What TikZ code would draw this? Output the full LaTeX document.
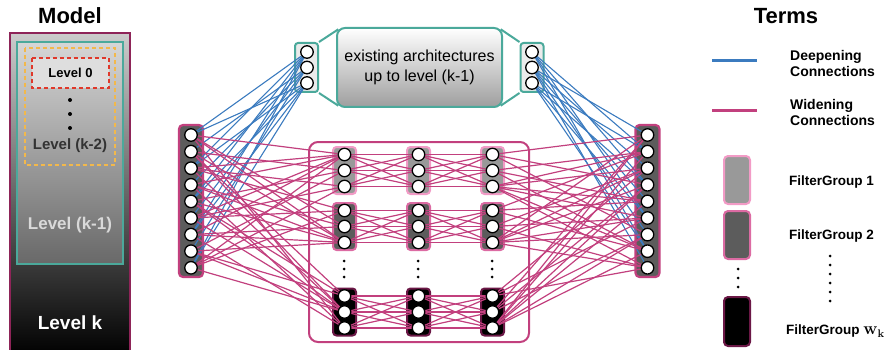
\documentclass[tikz,border=0pt]{standalone}
\usepackage[no-math]{fontspec}
\setmainfont{Liberation Sans}
\usetikzlibrary{calc}
\definecolor{wid}{HTML}{C2407E}
\definecolor{deep}{HTML}{3B7BBF}
\definecolor{teal2}{HTML}{4BA99B}
\definecolor{fgA}{HTML}{999999}
\definecolor{fgAb}{HTML}{F29BC6}
\definecolor{fgB}{HTML}{5C5C5C}
\definecolor{fgBb}{HTML}{DC6BA3}
\definecolor{fgCb}{HTML}{6B1846}
\definecolor{modelb}{HTML}{8E2458}
\definecolor{yel}{HTML}{F2B84B}
\definecolor{redd}{HTML}{E0382A}
\pgfdeclarelayer{boxes}
\pgfdeclarelayer{wires}
\pgfsetlayers{boxes,wires,main}
\begin{document}
\begin{tikzpicture}[x=1pt,y=-1pt,
  neuron/.style={circle,draw=black,fill=white,line width=1.3pt,minimum size=12.5pt,inner sep=0pt},
  colbox/.style={draw=wid,fill=fgB,line width=2.2pt,rounded corners=4pt,minimum width=24pt,minimum height=152pt,inner sep=0pt},
  fgbox/.style={line width=2pt,rounded corners=3.5pt,minimum width=23pt,minimum height=47pt,inner sep=0pt},
  fgone/.style={fgbox,draw=fgAb,fill=fgA},
  fgtwo/.style={fgbox,draw=fgBb,fill=fgB},
  fgthree/.style={fgbox,draw=fgCb,fill=black},
  tealbox/.style={draw=teal2,fill=black!8,line width=2pt,rounded corners=3pt,minimum width=23pt,minimum height=49pt,inner sep=0pt},
  wide/.style={draw=wid,line width=1.2pt},
  deepl/.style={draw=deep,line width=1.1pt},
  dot/.style={circle,fill=black,inner sep=0pt,minimum size=3pt},
  lbl/.style={font=\bfseries\fontsize{14}{16}\selectfont,anchor=west,align=left,inner sep=0pt},
  fglbl/.style={font=\bfseries\fontsize{13.5}{16}\selectfont,anchor=west,inner sep=0pt},
  title/.style={font=\bfseries\fontsize{22}{26}\selectfont,inner sep=0pt}
]
\useasboundingbox (0,0) rectangle (885,350);

% ---------------- Model panel ----------------
\path[draw=modelb,line width=1.5pt,top color=black!20,middle color=black!67,bottom color=black] (10,33) rectangle (130,356);
\path[draw=teal2,line width=2pt,top color=black!16,bottom color=black!59] (17,42) rectangle (123,264);
\draw[yel,line width=2pt,dash pattern=on 4pt off 3pt] (25,48) rectangle (115,165);
\draw[redd,line width=2pt,dash pattern=on 4pt off 3pt,fill=black!13] (32,58) rectangle (109,88);
\node[title] (modelT) at (70,16) {Model};
\node[font=\bfseries\fontsize{13}{15}\selectfont,inner sep=0pt] (lv0) at (70.5,73) {Level 0};
\node[dot,minimum size=4pt] (md1) at (70,100) {};
\node[dot,minimum size=4pt] (md2) at (70,114) {};
\node[dot,minimum size=4pt] (md3) at (70,128) {};
\node[font=\bfseries\fontsize{15}{18}\selectfont,text=black!80,inner sep=0pt] (lvk2) at (70,146) {Level (k-2)};
\node[font=\bfseries\fontsize{17}{20}\selectfont,text=black!15,inner sep=0pt] (lvk1) at (70,225) {Level (k-1)};
\node[font=\bfseries\fontsize{19}{22}\selectfont,text=white,inner sep=0pt] (lvk) at (70,323) {Level k};

% ---------------- boxes ----------------
\begin{pgfonlayer}{boxes}
\node[tealbox] (tlb) at (306.5,67.5) {};
\node[tealbox] (trb) at (532,67.5) {};
\node[colbox] (lcol) at (191,201) {};
\node[colbox] (rcol) at (647.5,201) {};
\node[draw=wid,line width=2pt,rounded corners=9pt,minimum width=220pt,minimum height=200pt,inner sep=0pt] (midbox) at (419,242) {};
\foreach \c/\x in {1/344.5,2/418.5,3/492.5}{
  \node[fgone] (F-1-\c) at (\x,170.5) {};
  \node[fgtwo] (F-2-\c) at (\x,226.5) {};
  \node[fgthree] (F-3-\c) at (\x,312) {};
}
\end{pgfonlayer}
\node[draw=teal2,line width=2pt,rounded corners=8pt,top color=white,bottom color=black!38,minimum width=165pt,minimum height=79pt,inner sep=0pt,font=\fontsize{16}{20}\selectfont,align=center] (arch) at (419.5,67.5) {existing architectures\\up to level (k-1)};
\draw[teal2,line width=2pt] (tlb.north east) -- ($(arch.north west)+(2.3,2.3)$);
\draw[teal2,line width=2pt] (tlb.south east) -- ($(arch.south west)+(2.3,-2.3)$);
\draw[teal2,line width=2pt] (trb.north west) -- ($(arch.north east)+(-2.3,2.3)$);
\draw[teal2,line width=2pt] (trb.south west) -- ($(arch.south east)+(-2.3,-2.3)$);

% ---------------- neurons ----------------
\foreach \t/\y in {1/52,2/67.5,3/83}{
  \node[neuron] (TL\t) at (307,\y) {};
  \node[neuron] (TR\t) at (532,\y) {};
}
\foreach \i in {1,...,9}{
  \pgfmathsetmacro{\yy}{135+16.6*(\i-1)}
  \node[neuron] (L\i) at (191,\yy) {};
  \node[neuron] (R\i) at (647.5,\yy) {};
}
\foreach \c/\x in {1/344.5,2/418.5,3/492.5}{
  \foreach \r/\yc in {1/170.5,2/226.5,3/312}{
    \node[neuron] (G-\r-\c-1) at (\x,\yc-16) {};
    \node[neuron] (G-\r-\c-2) at (\x,\yc) {};
    \node[neuron] (G-\r-\c-3) at (\x,\yc+16) {};
  }
  \node[dot] (vd-\c-1) at (\x-0.5,261) {};
  \node[dot] (vd-\c-2) at (\x-0.5,269) {};
  \node[dot] (vd-\c-3) at (\x-0.5,277) {};
}

% ---------------- connections ----------------
\begin{pgfonlayer}{wires}
\foreach \t in {1,2,3}{
  \foreach \i in {1,...,9}{
    \pgfmathtruncatemacro{\ok}{mod(\i+\t,2)}
    \ifnum\ok=0
      \draw[deepl] (TL\t) -- (L\i);
    \fi
    \pgfmathtruncatemacro{\okb}{mod(\i+\t+1,2)}
    \ifnum\okb=0
      \draw[deepl] (TR\t) -- (R\i);
    \fi
  }
}
\foreach \i in {1,...,9}{
  \foreach \r in {1,2,3}{
    \pgfmathtruncatemacro{\jj}{mod(\i+\r-2,3)+1}
    \pgfmathtruncatemacro{\kk}{mod(\i+2*\r,3)+1}
    \draw[wide] (L\i) -- (G-\r-1-\jj);
    \draw[wide] (G-\r-3-\kk) -- (R\i);
  }
  \pgfmathtruncatemacro{\rx}{mod(\i,3)+1}
  \pgfmathtruncatemacro{\jx}{mod(\i+\rx-1,3)+1}
  \pgfmathtruncatemacro{\ry}{mod(\i+1,3)+1}
  \pgfmathtruncatemacro{\ky}{mod(\i+2*\ry+1,3)+1}
  \draw[wide] (L\i) -- (G-\rx-1-\jx);
  \draw[wide] (G-\ry-3-\ky) -- (R\i);
}
\foreach \r in {1,2,3}{
  \foreach \c/\d in {1/2,2/3}{
    \foreach \j in {1,2,3}{
      \foreach \k in {1,2,3}{
        \draw[wide] (G-\r-\c-\j) -- (G-\r-\d-\k);
      }
    }
  }
}
\end{pgfonlayer}

% ---------------- Terms ----------------
\node[title] (termsT) at (786,16) {Terms};
\coordinate (dA) at (712,61);
\coordinate (dB) at (757,61);
\draw[deep,line width=3pt] (dA) -- (dB);
\node[lbl] (dlbl) at (790,63) {Deepening\\Connections};
\coordinate (wA) at (712,111);
\coordinate (wB) at (757,111);
\draw[wid,line width=3pt] (wA) -- (wB);
\node[lbl] (wlbl) at (790,112.5) {Widening\\Connections};
\node[fgone,minimum width=26pt,minimum height=48pt,rounded corners=4pt] (t1) at (737,180) {};
\node[fgtwo,minimum width=26pt,minimum height=48pt,rounded corners=4pt] (t2) at (737,235) {};
\node[fgthree,minimum width=26pt,minimum height=49pt,rounded corners=4pt] (t3) at (737,321.5) {};
\node[fglbl] (t1l) at (789,182) {FilterGroup 1};
\node[fglbl] (t2l) at (789,236) {FilterGroup 2};
\node[fglbl] (t3l) at (786,331) {FilterGroup {\fontsize{16}{16}\selectfont$\mathbf{w}_{\mathbf{k}}$}};
\foreach \k/\y in {1/269,2/278,3/287}{
  \node[dot] (td\k) at (738,\y) {};
}
\foreach \k in {0,...,5}{
  \node[dot] (rd\k) at (830,256+9*\k) {};
}
\end{tikzpicture}
\end{document}
